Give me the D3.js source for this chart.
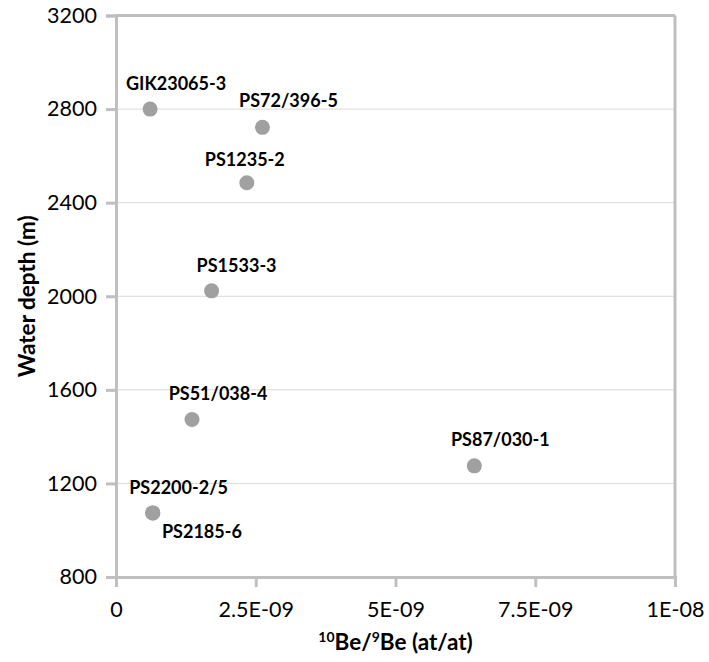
<!DOCTYPE html>
<html>
<head>
<meta charset="utf-8">
<script src="https://cdn.jsdelivr.net/npm/d3@7"></script>
<style>
  body { margin: 0; background: #fff; }
  svg text { font-family: Lato, "Open Sans", sans-serif; fill: #000; }
</style>
</head>
<body>
<div id="vis"></div>
<script>
// sample cores, ratio and water depth
var cores = ["GIK23065-3", "PS72/396-5", "PS1235-2", "PS1533-3",
             "PS51/038-4", "PS2200-2/5", "PS2185-6", "PS87/030-1"];
var beRatio = [0.61e-9, 2.62e-9, 2.34e-9, 1.71e-9, 1.36e-9, 0.655e-9, 0.66e-9, 6.41e-9];
var depth = [2800, 2722, 2485, 2023, 1473, 1074, 1074, 1275];

var xTicks = [0, 2.5e-9, 5e-9, 7.5e-9, 1e-8];
var xTickLabels = ["0", "2.5E-09", "5E-09", "7.5E-09", "1E-08"];
var yTicks = [800, 1200, 1600, 2000, 2400, 2800, 3200];

// label placement relative to each dot (px), like Excel's hand-moved labels
var labelShift = [[26, -19], [26, -20], [-2, -17], [25, -19],
                  [26, -20], [26, -19], [49, 25], [26, -20]];

var width = 709, height = 662;
var margin = {top: 15.5, left: 116, right: 34, bottom: 85};

var svg = d3.select("#vis").append("svg")
  .attr("width", width)
  .attr("height", height);

var x = d3.scaleLinear()
  .domain([0, 1e-8])
  .range([margin.left, width - margin.right]);

var y = d3.scaleLinear()
  .domain([800, 3200])
  .range([height - margin.bottom, margin.top]);

var axisGrey = "#bfbfbf";

// horizontal gridlines
svg.append("g")
  .selectAll("line")
  .data(yTicks.slice(1, -1))
  .enter().append("line")
  .attr("x1", x(0)).attr("x2", x(1e-8))
  .attr("y1", function(d) { return y(d); })
  .attr("y2", function(d) { return y(d); })
  .attr("stroke", "#d9d9d9")
  .attr("stroke-width", 1);

// top and right edge of the plot area
svg.append("line")
  .attr("x1", x(0)).attr("x2", x(1e-8))
  .attr("y1", y(3200)).attr("y2", y(3200))
  .attr("stroke", axisGrey).attr("stroke-width", 3);
svg.append("line")
  .attr("x1", x(1e-8)).attr("x2", x(1e-8))
  .attr("y1", y(3200)).attr("y2", y(800))
  .attr("stroke", axisGrey).attr("stroke-width", 3);

// y axis
var yAxis = svg.append("g")
  .attr("transform", "translate(" + x(0) + ",0)")
  .call(d3.axisLeft(y).tickValues(yTicks).tickSize(10).tickPadding(9).tickFormat(d3.format("d")));

// x axis
var xAxis = svg.append("g")
  .attr("transform", "translate(0," + y(800) + ")")
  .call(d3.axisBottom(x).tickValues(xTicks).tickSize(10).tickPadding(15)
    .tickFormat(function(d, i) { return xTickLabels[i]; }));

[xAxis, yAxis].forEach(function(ax) {
  ax.select(".domain").attr("stroke", axisGrey).attr("stroke-width", 3);
  ax.selectAll(".tick line").attr("stroke", axisGrey).attr("stroke-width", 3);
  ax.selectAll(".tick text")
    .attr("fill", "#000")
    .style("font-family", "Lato, 'Open Sans', sans-serif")
    .style("font-size", "21.5px");
});

// points
var pts = cores.map(function(c, i) {
  return {name: c, x: beRatio[i], y: depth[i], shift: labelShift[i]};
});

svg.append("g")
  .selectAll("circle")
  .data(pts)
  .enter().append("circle")
  .attr("cx", function(d) { return x(d.x); })
  .attr("cy", function(d) { return y(d.y); })
  .attr("r", 7.5)
  .attr("fill", "#a0a0a0");

svg.append("g")
  .selectAll("text")
  .data(pts)
  .enter().append("text")
  .attr("x", function(d) { return x(d.x) + d.shift[0]; })
  .attr("y", function(d) { return y(d.y) + d.shift[1]; })
  .attr("text-anchor", "middle")
  .style("font-size", "18px")
  .style("font-weight", "bold")
  .text(function(d) { return d.name; });

// axis titles
svg.append("text")
  .attr("transform", "translate(35," + ((y(800) + y(3200)) / 2) + ") rotate(-90)")
  .attr("text-anchor", "middle")
  .style("font-size", "22.5px")
  .style("font-weight", "bold")
  .text("Water depth (m)");

var xt = svg.append("text")
  .attr("x", (x(0) + x(1e-8)) / 2)
  .attr("y", 650)
  .attr("text-anchor", "middle")
  .style("font-size", "22.5px")
  .style("font-weight", "bold");
xt.append("tspan").attr("dy", -8).style("font-size", "14px").text("10");
xt.append("tspan").attr("dy", 8).text("Be/");
xt.append("tspan").attr("dy", -8).style("font-size", "14px").text("9");
xt.append("tspan").attr("dy", 8).text("Be (at/at)");
</script>
</body>
</html>
